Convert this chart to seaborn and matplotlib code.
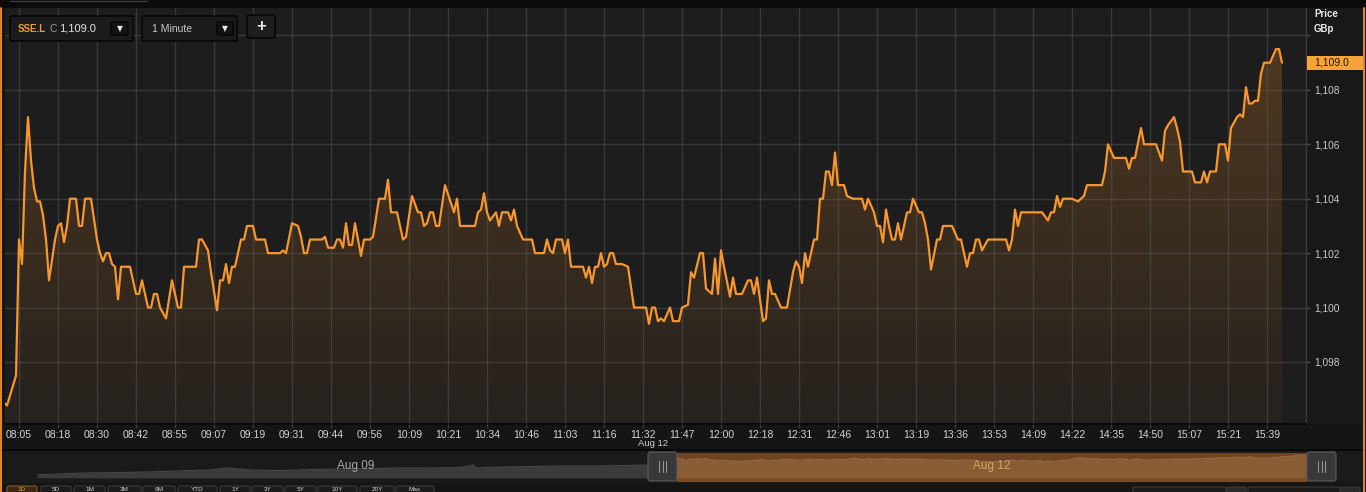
import matplotlib
matplotlib.use('Agg')
import matplotlib.pyplot as plt
import matplotlib.patches as mpatches
import matplotlib.transforms as mtransforms
from matplotlib.colors import to_rgb
import numpy as np
import pandas as pd
import seaborn as sns

# SSE.L, 1 minute bars, Aug 12 (bar number, price in GBp)
bars = [0, 1, 4, 5, 6, 7, 8, 9, 10, 11, 12, 13, 14, 15, 17, 18, 19, 20, 21, 22,
        24, 25, 26, 27, 29, 31, 32, 33, 34, 35, 36, 37, 38, 39, 42, 44, 45, 46, 48, 49,
        50, 51, 52, 54, 56, 58, 59, 60, 64, 65, 66, 68, 69, 71, 72, 73, 74, 75, 76, 77,
        79, 80, 81, 83, 84, 87, 88, 92, 93, 94, 96, 98, 99, 100, 101, 102, 106, 107, 108, 110,
        111, 112, 113, 114, 115, 116, 117, 119, 120, 122, 123, 124, 125, 127, 128, 129, 131, 133, 134, 136,
        138, 139, 140, 141, 142, 143, 144, 145, 147, 150, 151, 152, 157, 158, 159, 160, 161, 162, 164, 165,
        166, 168, 169, 170, 171, 173, 176, 177, 180, 181, 182, 183, 184, 186, 187, 188, 189, 193, 194, 195,
        196, 197, 198, 199, 200, 201, 202, 203, 204, 206, 208, 210, 214, 215, 216, 217, 218, 219, 220, 222,
        223, 225, 226, 228, 229, 230, 232, 233, 234, 236, 237, 238, 239, 240, 242, 243, 244, 246, 248, 249,
        250, 251, 253, 254, 255, 256, 257, 259, 261, 263, 264, 265, 266, 267, 268, 270, 271, 272, 273, 274,
        275, 276, 277, 278, 280, 281, 283, 286, 287, 288, 290, 291, 292, 293, 294, 295, 296, 297, 298, 299,
        301, 302, 303, 305, 306, 307, 308, 309, 311, 312, 313, 316, 318, 319, 321, 322, 323, 324, 325, 326,
        328, 334, 335, 336, 337, 338, 339, 346, 348, 349, 350, 351, 352, 353, 356, 358, 360, 361, 366, 367,
        368, 370, 374, 375, 376, 377, 379, 380, 384, 386, 387, 388, 390, 391, 392, 393, 396, 397, 399, 400,
        401, 402, 404, 405, 407, 408, 409, 411, 412, 413, 414, 415, 416, 417, 418, 419, 420, 422, 424, 425,
        426]
prices = [1096.5, 1096.4, 1097.5, 1102.5, 1101.6, 1105.0, 1107.0, 1105.4, 1104.4, 1103.9, 1103.9, 1103.4, 1102.5, 1101.0, 1102.5, 1103.0, 1103.1, 1102.4, 1103.0, 1104.0,
          1104.0, 1103.0, 1103.0, 1104.0, 1104.0, 1102.5, 1102.0, 1101.7, 1102.0, 1102.0, 1101.6, 1101.5, 1100.3, 1101.5, 1101.5, 1100.5, 1100.5, 1101.0, 1100.0, 1100.0,
          1100.5, 1100.5, 1100.0, 1099.6, 1101.0, 1100.0, 1100.0, 1101.5, 1101.5, 1102.5, 1102.5, 1102.1, 1101.3, 1099.9, 1101.0, 1101.0, 1101.6, 1100.9, 1101.5, 1101.5,
          1102.5, 1102.5, 1103.0, 1103.0, 1102.5, 1102.5, 1102.0, 1102.0, 1102.1, 1102.0, 1103.1, 1103.0, 1102.6, 1102.0, 1102.0, 1102.5, 1102.5, 1102.6, 1102.2, 1102.2,
          1102.5, 1102.5, 1102.2, 1103.1, 1102.3, 1102.3, 1103.1, 1101.9, 1102.5, 1102.5, 1102.6, 1103.3, 1104.0, 1104.0, 1104.7, 1103.5, 1103.5, 1102.5, 1102.6, 1104.1,
          1103.5, 1103.5, 1103.0, 1103.1, 1103.5, 1103.5, 1103.0, 1103.0, 1104.5, 1103.5, 1104.0, 1103.0, 1103.0, 1103.5, 1103.6, 1104.2, 1103.5, 1103.2, 1103.5, 1103.0,
          1103.5, 1103.5, 1103.2, 1103.6, 1103.0, 1102.5, 1102.5, 1102.0, 1102.0, 1102.5, 1102.1, 1102.0, 1102.5, 1102.5, 1102.0, 1102.5, 1101.5, 1101.5, 1101.1, 1101.5,
          1100.9, 1101.5, 1101.5, 1102.0, 1101.5, 1101.6, 1102.0, 1102.0, 1101.6, 1101.6, 1101.5, 1100.0, 1100.0, 1099.4, 1100.0, 1100.0, 1099.5, 1099.6, 1099.5, 1100.0,
          1099.5, 1099.5, 1100.0, 1100.1, 1101.3, 1101.1, 1102.0, 1102.0, 1100.7, 1100.5, 1101.8, 1100.5, 1102.1, 1101.5, 1100.4, 1101.1, 1100.5, 1100.5, 1101.0, 1101.0,
          1100.5, 1101.1, 1099.5, 1099.6, 1101.0, 1100.5, 1100.5, 1100.0, 1100.0, 1101.3, 1101.7, 1101.5, 1100.9, 1102.0, 1101.5, 1102.5, 1102.5, 1104.0, 1104.0, 1105.0,
          1105.0, 1104.5, 1105.7, 1104.5, 1104.5, 1104.1, 1104.0, 1104.0, 1103.6, 1104.0, 1103.5, 1103.0, 1103.0, 1102.4, 1103.6, 1103.0, 1102.5, 1102.5, 1103.1, 1102.5,
          1103.5, 1103.5, 1104.0, 1103.5, 1103.5, 1103.1, 1102.5, 1101.4, 1102.5, 1102.5, 1103.0, 1103.0, 1102.5, 1102.5, 1101.5, 1102.0, 1102.0, 1102.5, 1102.5, 1102.1,
          1102.5, 1102.5, 1102.1, 1102.5, 1103.6, 1103.0, 1103.5, 1103.5, 1103.2, 1103.5, 1103.5, 1104.1, 1103.7, 1104.0, 1104.0, 1103.9, 1104.1, 1104.5, 1104.5, 1105.0,
          1106.0, 1105.5, 1105.5, 1105.1, 1105.5, 1105.5, 1106.6, 1106.0, 1106.0, 1105.4, 1106.5, 1106.7, 1107.0, 1106.6, 1106.1, 1105.0, 1105.0, 1104.6, 1104.6, 1105.0,
          1104.6, 1105.0, 1105.0, 1106.0, 1106.0, 1105.4, 1106.6, 1107.0, 1107.1, 1107.0, 1108.1, 1107.5, 1107.5, 1107.6, 1107.6, 1108.6, 1109.0, 1109.0, 1109.5, 1109.5,
          1109.0]

# time labels, one every 13 bars starting at bar 5
tick_labels = ['08:05', '08:18', '08:30', '08:42', '08:55', '09:07', '09:19', '09:31', '09:44', '09:56',
               '10:09', '10:21', '10:34', '10:46', '11:03', '11:16', '11:32', '11:47', '12:00', '12:18',
               '12:31', '12:46', '13:01', '13:19', '13:36', '13:53', '14:09', '14:22', '14:35', '14:50',
               '15:07', '15:21', '15:39']
price_ticks = [1098, 1100, 1102, 1104, 1106, 1108, 1110]

# navigator: previous session (Aug 09), coarse
aug09_idx = [0, 15, 35, 55, 75, 95, 115, 126, 141, 161, 181, 201, 221, 240, 260, 280, 289, 291, 307, 326,
             346, 366, 386, 405, 414]
aug09_px = [1079.5, 1081.0, 1082.5, 1083.0, 1084.0, 1085.5, 1087.0, 1090.0, 1087.0, 1086.0, 1087.5, 1088.5, 1089.0, 1090.0, 1090.0,
            1090.5, 1094.5, 1090.0, 1091.5, 1092.0, 1093.0, 1093.0, 1093.5, 1094.5, 1094.5]

sns.set_style('dark')
plt.rcParams['font.family'] = ['Liberation Sans', 'DejaVu Sans']

W, H = 1366, 492
ORANGE = '#f7962e'
fig = plt.figure(figsize=(W / 100, H / 100), dpi=100, facecolor='#151515')


def rect(x0, y0, x1, y1):
    return [x0 / W, 1 - y1 / H, (x1 - x0) / W, (y1 - y0) / H]


def pixel_axes(z):
    a = fig.add_axes([0, 0, 1, 1], zorder=z)
    a.set_xlim(0, W)
    a.set_ylim(H, 0)
    a.axis('off')
    a.patch.set_alpha(0)
    return a


def box(a, x0, y0, x1, y1, fc, ec='none', lw=0.8, r=0):
    style = f'round,pad=0,rounding_size={r}' if r else 'square,pad=0'
    a.add_patch(mpatches.FancyBboxPatch((x0, y0), x1 - x0, y1 - y0, boxstyle=style,
                                        fc=fc, ec=ec, lw=lw))


# background bands
bg = pixel_axes(0)
box(bg, 0, 0, W, 8, '#0b0b0b')
box(bg, 1307, 8, 1363, 424, '#181818')
box(bg, 0, 449, W, 451, '#090909')
box(bg, 4, 451, 1362, 483, '#1a1a1a')
box(bg, 677, 453, 1307, 478, '#6d4524')
box(bg, 677, 478, 1307, 482, '#7c4c1f')

# main price chart
ax = fig.add_axes(rect(5, 8, 1306, 424), zorder=1)
ax.set_facecolor('#1d1d1d')
x_lo, x_hi = 0.33, 434.0
y_lo, y_hi = 1095.72, 1111.01

df = pd.DataFrame({'bar': bars, 'price': prices})
fill = ax.fill_between(df['bar'], df['price'], y_lo, color='none', lw=0)
grad = np.zeros((256, 1, 4))
grad[..., :3] = to_rgb('#f5932c')
grad[:, 0, 3] = np.linspace(0.04, 0.25, 256)
im = ax.imshow(grad, extent=[x_lo, x_hi, y_lo, y_hi], origin='lower', aspect='auto', zorder=1.5)
im.set_clip_path(fill.get_paths()[0], transform=ax.transData)
sns.lineplot(data=df, x='bar', y='price', ax=ax, color=ORANGE, lw=1.6,
             estimator=None, sort=False, zorder=3)

ax.set_xlim(x_lo, x_hi)
ax.set_ylim(y_lo, y_hi)
ax.set_xticks([5 + 13 * i for i in range(len(tick_labels))])
ax.set_xticklabels(tick_labels)
ax.set_yticks(price_ticks)
ax.set_yticklabels(['' if p == 1110 else f'{p:,}' for p in price_ticks])
ax.yaxis.tick_right()
ax.set_xlabel('')
ax.set_ylabel('')
ax.grid(True, color='#5a5a5a', alpha=0.45, lw=1.0)
ax.set_axisbelow(False)
ax.tick_params(axis='x', bottom=True, direction='out', length=3, width=1, color='#3a3a3a',
               labelcolor='#d2d2d2', labelsize=7.5, pad=1.5)
ax.tick_params(axis='y', right=True, left=False, direction='out', length=3, width=1, color='#4a4a4a',
               labelcolor='#c8c8c8', labelsize=7.3, pad=3)
for s in ('top', 'left'):
    ax.spines[s].set_visible(False)
ax.spines['right'].set_color('#3c3c3c')
ax.spines['right'].set_linewidth(1)
ax.spines['bottom'].set_color('#0a0a0a')
ax.spines['bottom'].set_linewidth(1.5)

# last price tag
last = prices[-1]
tr = mtransforms.blended_transform_factory(ax.transAxes, ax.transData)
ax.add_patch(mpatches.Rectangle((1.0008, last - 0.26), 56 / 1301, 0.52, transform=tr,
                                fc='#f7a33a', ec='none', clip_on=False, zorder=5))
ax.text(1.0 + 8 / 1301, last, f'{last:,.1f}', transform=tr, ha='left', va='center',
        fontsize=7.5, color='#1a1a1a', clip_on=False, zorder=6)

# navigator
nav = fig.add_axes(rect(37, 452, 1307, 482), zorder=1)
nav.patch.set_alpha(0)
nav_base = 1075.0
d09 = pd.DataFrame({'idx': aug09_idx, 'price': aug09_px})
d12 = pd.DataFrame({'idx': [414 + b for b in bars], 'price': prices})
nav.fill_between(d09['idx'], d09['price'], nav_base, color='#3b3b3b', lw=0)
sns.lineplot(data=d09, x='idx', y='price', ax=nav, color='#474747', lw=0.8, estimator=None)
nav.fill_between(d12['idx'], d12['price'], nav_base, color='#8b5d34', lw=0)
sns.lineplot(data=d12, x='idx', y='price', ax=nav, color='#9c6a3c', lw=0.8, estimator=None)
nav.set_xlim(0, 841)
nav.set_ylim(1068.7, 1114.1)
nav.axis('off')

# foreground widgets
fg = pixel_axes(5)
# header controls
box(fg, 10, 16, 133, 41, '#1b1b1b', '#070707', 1.2, 1.5)
fg.text(18, 28.5, 'SSE.L', color='#f39a33', fontsize=7, fontweight='bold', va='center')
fg.text(50, 28.5, 'C', color='#9a9a9a', fontsize=7.5, va='center')
fg.text(59, 28.5, '1,109.0', color='#e2e2e2', fontsize=8, va='center')
box(fg, 111, 22, 128, 35, '#131313', '#050505', 1, 1.5)
fg.text(119.5, 28.5, '▼', color='#e6e6e6', fontsize=5.5, ha='center', va='center', family='DejaVu Sans')
box(fg, 142, 16, 237, 41, '#1b1b1b', '#070707', 1.2, 1.5)
fg.text(152, 28.5, '1 Minute', color='#c8c8c8', fontsize=7.5, va='center')
box(fg, 217, 22, 233, 35, '#131313', '#050505', 1, 1.5)
fg.text(225, 28.5, '▼', color='#e6e6e6', fontsize=5.5, ha='center', va='center', family='DejaVu Sans')
box(fg, 247, 15, 275, 38, '#1e1e1e', '#070707', 1.2, 2)
fg.text(261, 26.5, '+', color='#e8e8e8', fontsize=12, fontweight='bold', ha='center', va='center')
fg.plot([10, 147], [1, 1], color='#3a3a3a', lw=1)

# axis header on right
fg.text(1314, 14, 'Price', color='#e8e8e8', fontsize=7, fontweight='bold', va='center')
fg.text(1314, 29, 'GBp', color='#e8e8e8', fontsize=7, fontweight='bold', va='center')

# navigator texts and handles
fg.text(653, 444, 'Aug 12', color='#d0d0d0', fontsize=6.8, ha='center', va='center')
fg.text(356, 466, 'Aug 09', color='#a6a6a6', fontsize=8.5, ha='center', va='center')
fg.text(992, 466, 'Aug 12', color='#d6a26a', fontsize=8.5, ha='center', va='center')
for hx in (648, 1307):
    box(fg, hx, 452, hx + 29, 481, '#383838', '#5c5c5c', 0.8, 2.5)
    for dx in (11, 14.5, 18):
        fg.plot([hx + dx, hx + dx], [461, 472], color='#9a9a9a', lw=0.7)

# range buttons, only their top edge fits in the frame
buttons = [('1D', 7, 37), ('5D', 41, 71), ('1M', 74, 105), ('3M', 108, 141), ('6M', 143, 175),
           ('YTD', 178, 217), ('1Y', 220, 250), ('3Y', 252, 283), ('5Y', 285, 316), ('10Y', 318, 357),
           ('20Y', 360, 394), ('Max', 396, 434)]
for name, x0, x1 in buttons:
    sel = name == '1D'
    box(fg, x0, 486, x1, 504, '#3a2812' if sel else '#1c1c1c', '#8a5a26' if sel else '#3a3a3a', 0.8, 2)
    fg.text((x0 + x1) / 2, 489.3, name, color=ORANGE if sel else '#cfcfcf', fontsize=4.6,
            ha='center', va='center')
for x0, x1 in ((1133, 1226), (1248, 1340)):
    box(fg, x0, 487, x1, 504, '#1c1c1c', '#3a3a3a', 0.8, 1.5)
    box(fg, x1 + 1, 487, x1 + 20, 504, '#2a2a2a', '#3a3a3a', 0.8, 1.5)

# window border
fg.plot([1, 1], [8, H], color='#f7941d', lw=1.3)
fg.plot([1364, 1364], [8, H], color='#f7941d', lw=1.3)

fig.savefig('out.png', dpi=100, facecolor=fig.get_facecolor())
